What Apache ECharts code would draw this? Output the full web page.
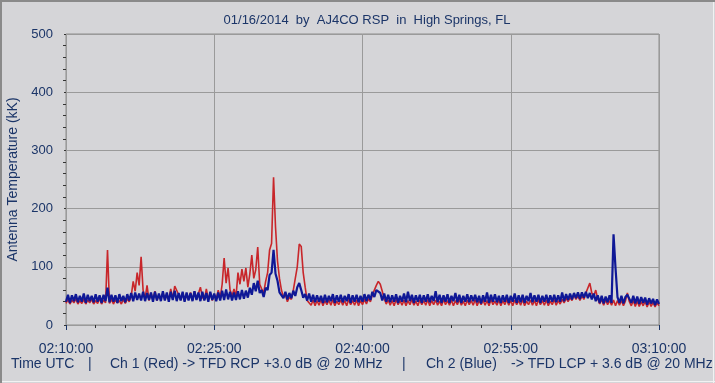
<!DOCTYPE html>
<html><head><meta charset="utf-8">
<script src="https://cdn.jsdelivr.net/npm/echarts@6/dist/echarts.min.js"></script>
<style>html,body{margin:0;padding:0;background:#d5d5d8}#c{width:715px;height:383px}</style>
</head><body><div id="c"></div>
<script>
// Sample spacing (seconds) of the series below, starting at 02:10:00 UTC
const SAMPLE_SECONDS = 12;
const xTickLabels = ['02:10:00','02:25:00','02:40:00','02:55:00','03:10:00'];
const yTickValues = [0,100,200,300,400,500];

// Ch 1 (Red) antenna temperature, kK
const ch1Red = [
37,44,36,43,38,45,36,42,37,44,
36,43,38,44,36,42,37,45,36,43,
38,129,37,44,36,43,38,42,36,44,
37,45,40,50,75,58,90,68,117,60,
45,68,42,55,44,58,42,52,44,56,
43,53,44,62,45,67,64,52,43,55,
42,52,44,56,43,58,44,54,65,48,
43,62,44,55,42,52,44,60,46,70,
115,72,98,60,50,62,48,90,70,96,
75,98,65,88,120,80,95,134,70,62,
55,75,90,129,140,254,168,110,80,60,
48,52,40,48,44,60,80,100,139,135,
90,65,42,44,34,43,33,42,34,44,
33,42,35,43,34,44,33,41,35,43,
34,42,33,44,35,42,34,43,33,42,
35,44,36,45,40,52,60,68,75,70,
58,45,36,43,34,42,33,44,35,42,
34,43,33,42,35,44,34,41,33,43,
35,42,34,44,33,42,35,43,34,41,
33,44,35,42,34,43,33,42,35,44,
34,41,33,43,35,42,34,44,33,42,
35,43,34,42,33,44,35,41,34,43,
33,42,35,44,34,42,33,43,35,42,
34,44,33,41,35,43,34,42,33,44,
35,42,34,43,33,41,35,44,34,42,
36,44,38,46,40,47,42,52,44,50,
42,50,44,55,58,72,55,50,60,45,
36,44,34,43,35,42,34,43,33,42,
34,42,33,41,55,40,33,42,32,41,
32,40,33,41,31,40,32,39,31,38,
33
];

// Ch 2 (Blue) antenna temperature, kK
const ch2Blue = [
40,52,38,51,41,53,39,50,40,54,
38,52,41,50,39,53,40,51,38,52,
41,64,39,52,40,51,38,53,41,50,
39,53,42,55,41,56,43,54,42,57,
41,55,43,56,40,57,42,54,41,58,
42,56,40,57,43,59,41,55,42,57,
40,56,42,55,41,58,43,56,41,57,
42,55,40,57,43,54,41,56,42,59,
43,61,44,57,42,56,43,58,44,60,
45,59,47,64,52,72,58,76,55,60,
48,64,60,86,90,129,88,76,56,58,
46,57,44,55,46,59,50,65,72,60,
47,53,42,54,40,52,39,51,40,50,
38,52,39,50,41,53,38,51,40,52,
39,50,41,53,38,51,40,52,39,50,
40,53,41,52,43,57,48,60,62,55,
42,54,40,52,39,51,40,53,38,50,
40,54,39,57,41,52,38,51,40,52,
38,51,40,53,39,50,41,58,39,52,
38,51,40,53,38,50,41,55,39,52,
38,50,40,53,39,51,41,52,39,50,
37,51,40,56,38,52,40,53,39,50,
38,51,40,52,38,50,40,54,38,51,
39,52,38,50,41,55,39,51,40,52,
38,50,40,52,38,51,40,52,39,51,
40,56,41,53,43,54,44,55,46,56,
45,56,47,57,46,55,44,54,41,51,
38,50,37,49,39,51,38,156,98,48,
38,50,37,48,52,49,38,50,37,49,
36,48,38,47,35,46,37,45,34,44,
36
];

const TXT = '#1b3568';
const FONT = 'Liberation Sans';
const toXY = arr => arr.map((v, i) => [i * SAMPLE_SECONDS, v]);
const chart = echarts.init(document.getElementById('c'), null, {renderer: 'canvas'});
const footer = (text, x) => ({type: 'text', x: x, y: 357, style: {text: text, fill: TXT, font: '14px "Liberation Sans"'}});
chart.setOption({
  animation: false,
  backgroundColor: '#d5d5d8',
  textStyle: {fontFamily: FONT},
  title: {
    text: '01/16/2014  by  AJ4CO RSP  in  High Springs, FL',
    left: 362, top: 9, textAlign: 'center',
    textStyle: {color: TXT, fontSize: 13, fontWeight: 'normal', fontFamily: FONT}
  },
  grid: {left: 66, right: 56, top: 34, bottom: 58, containLabel: false, outerBoundsMode: 'none',
         show: true, borderColor: '#8c8c8c', borderWidth: 1, backgroundColor: 'transparent'},
  xAxis: {
    type: 'value', min: 0, max: (xTickLabels.length - 1) * 900, interval: 900,
    offset: 5,
    axisLine: {show: false},
    axisTick: {show: true, length: 5, lineStyle: {color: '#1b3568', width: 1}},
    minorTick: {show: true, splitNumber: 5, length: 3, lineStyle: {color: '#333'}},
    splitLine: {show: true, lineStyle: {color: '#9a9a9a', width: 1}},
    axisLabel: {color: TXT, fontSize: 14, margin: 12, fontFamily: FONT,
      formatter: v => xTickLabels[Math.round(v / 900)] || ''}
  },
  yAxis: {
    type: 'value', min: yTickValues[0], max: yTickValues[yTickValues.length - 1], interval: 100,
    offset: 6,
    name: 'Antenna Temperature (kK)', nameLocation: 'middle', nameGap: 40, nameRotate: 90,
    nameTextStyle: {color: TXT, fontSize: 14, fontFamily: FONT},
    axisLine: {show: false},
    axisTick: {show: true, length: 2, lineStyle: {color: '#333'}},
    minorTick: {show: true, splitNumber: 5, length: 3, lineStyle: {color: '#333'}},
    splitLine: {show: true, lineStyle: {color: '#9a9a9a', width: 1}},
    axisLabel: {color: TXT, fontSize: 13, margin: 7, fontFamily: FONT}
  },
  series: [
    {name: 'Ch 1 (Red)', type: 'line', data: toXY(ch1Red), showSymbol: false, symbol: 'none',
     lineStyle: {color: '#c8262a', width: 1.6}, sampling: null, z: 2},
    {name: 'Ch 2 (Blue)', type: 'line', data: toXY(ch2Blue), showSymbol: false, symbol: 'none',
     lineStyle: {color: '#0f1896', width: 2.2}, sampling: null, z: 3}
  ],
  graphic: [
    {type: 'line', shape: {x1: 0, y1: 1, x2: 715, y2: 1}, style: {stroke: '#8a8a8a', lineWidth: 2}},
    {type: 'line', shape: {x1: 1, y1: 0, x2: 1, y2: 383}, style: {stroke: '#8a8a8a', lineWidth: 2}},
    {type: 'line', shape: {x1: 713.5, y1: 2, x2: 713.5, y2: 383}, style: {stroke: '#f2f2f2', lineWidth: 1}},
    {type: 'line', shape: {x1: 2, y1: 381.5, x2: 715, y2: 381.5}, style: {stroke: '#f2f2f2', lineWidth: 1}},
    footer('Time UTC', 11),
    footer('|', 88),
    footer('Ch 1 (Red) -> TFD RCP +3.0 dB @ 20 MHz', 110),
    footer('|', 402),
    footer('Ch 2 (Blue)', 426),
    footer('-> TFD LCP + 3.6 dB @ 20 MHz', 511)
  ]
});
</script></body></html>
